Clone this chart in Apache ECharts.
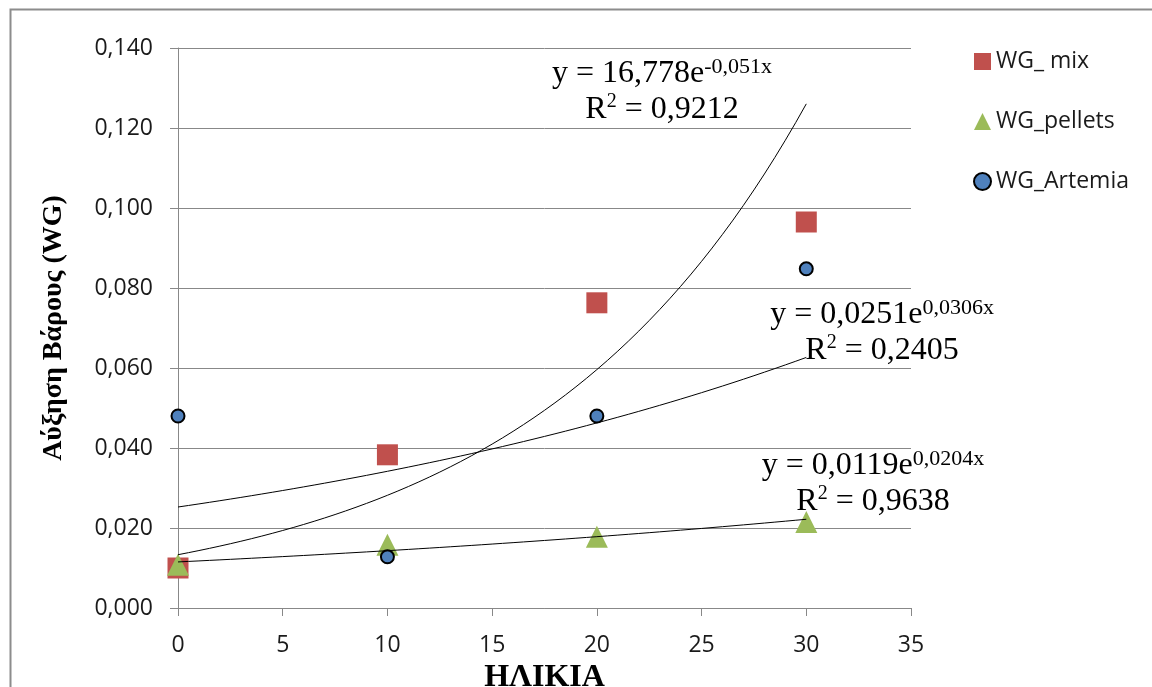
<!DOCTYPE html>
<html>
<head>
<meta charset="utf-8">
<script src="https://cdn.jsdelivr.net/npm/echarts@6/dist/echarts.min.js"></script>
<style>
html,body{margin:0;padding:0;background:#fff;}
#chart{width:1152px;height:687px;}
</style>
</head>
<body>
<div id="chart"></div>
<script>
// ---- data ----
const ages = [0, 10, 20, 30];
const wgMix = [0.0100, 0.0383, 0.0763, 0.0965];
const wgPellets = [0.0108, 0.0158, 0.0178, 0.0215];
const wgArtemia = [0.0480, 0.0128, 0.0480, 0.0848];
const seriesNames = ['WG_ mix', 'WG_pellets', 'WG_Artemia'];
const xTicks = { min: 0, max: 35, interval: 5 };
const yTicks = { min: 0, max: 0.14, interval: 0.02 };
const equations = [
  { eq: '16,778e', exp: '-0,051x', r2: '0,9212' },
  { eq: '0,0251e', exp: '0,0306x', r2: '0,2405' },
  { eq: '0,0119e', exp: '0,0204x', r2: '0,9638' }
];

// Exponential least-squares fit (what the spreadsheet trendline does)
function expFit(xs, ys) {
  const n = xs.length;
  const ly = ys.map(Math.log);
  const mx = xs.reduce((a, b) => a + b, 0) / n;
  const my = ly.reduce((a, b) => a + b, 0) / n;
  let sxy = 0, sxx = 0;
  for (let i = 0; i < n; i++) { sxy += (xs[i] - mx) * (ly[i] - my); sxx += (xs[i] - mx) * (xs[i] - mx); }
  const b = sxy / sxx;
  const a = Math.exp(my - b * mx);
  return { a, b };
}
function trendPoints(xs, ys) {
  const f = expFit(xs, ys);
  const x0 = Math.min(...xs), x1 = Math.max(...xs);
  const pts = [];
  const steps = 60;
  for (let i = 0; i <= steps; i++) {
    const x = x0 + (x1 - x0) * i / steps;
    pts.push([x, f.a * Math.exp(f.b * x)]);
  }
  return pts;
}
const pairs = ys => ages.map((x, i) => [x, ys[i]]);

const chart = echarts.init(document.getElementById('chart'));
const gridColor = '#888888';
const serif = '"Liberation Serif", "DejaVu Serif", serif';
const sans = '"Open Sans", "Noto Sans", sans-serif';

function eqText(e) {
  return '{m|y = ' + e.eq + '}{s|' + e.exp + '}\n{m|R}{s2|2}{m| = ' + e.r2 + '}';
}
const eqRich = {
  m: { fontFamily: serif, fontSize: 32, lineHeight: 36, fill: '#000', color: '#000' },
  s: { fontFamily: serif, fontSize: 22, lineHeight: 36, verticalAlign: 'top', fill: '#000', color: '#000' },
  s2: { fontFamily: serif, fontSize: 20, lineHeight: 36, verticalAlign: 'top', fill: '#000', color: '#000' }
};
const eqPos = [[662, 92], [882, 333], [873, 484]];

chart.setOption({
  animation: false,
  backgroundColor: '#fff',
  grid: { left: 178, right: 241, top: 48, bottom: 79, containLabel: false, outerBoundsMode: 'none' },
  legend: {
    orient: 'vertical', left: 968, top: 45, itemWidth: 17, itemHeight: 17, itemGap: 37,
    data: seriesNames,
    textStyle: { fontFamily: sans, fontSize: 23, color: '#1a1a1a' }
  },
  xAxis: {
    type: 'value', min: xTicks.min, max: xTicks.max, interval: xTicks.interval,
    name: 'ΗΛΙΚΙΑ', nameLocation: 'middle', nameGap: 46,
    nameTextStyle: { fontFamily: serif, fontWeight: 'bold', fontSize: 32, color: '#000' },
    axisLine: { show: true, onZero: false, lineStyle: { color: gridColor, width: 1 } },
    axisTick: { show: true, length: 8, lineStyle: { color: gridColor } },
    axisLabel: { fontFamily: sans, fontSize: 23, color: '#1a1a1a', margin: 26 },
    splitLine: { show: false }
  },
  yAxis: {
    type: 'value', min: yTicks.min, max: yTicks.max, interval: yTicks.interval,
    name: 'Αύξηση Βάρους (WG)', nameLocation: 'middle', nameGap: 110, nameRotate: 90,
    nameTextStyle: { fontFamily: serif, fontWeight: 'bold', fontSize: 28, color: '#000' },
    axisLine: { show: true, lineStyle: { color: gridColor, width: 1 } },
    axisTick: { show: true, length: 8, lineStyle: { color: gridColor } },
    axisLabel: { fontFamily: sans, fontSize: 23, color: '#1a1a1a', margin: 25,
      formatter: v => v.toFixed(3).replace('.', ',') },
    splitLine: { show: true, lineStyle: { color: gridColor, width: 1 } }
  },
  series: [
    { name: seriesNames[0], type: 'scatter', data: pairs(wgMix), symbol: 'rect', symbolSize: 21,
      itemStyle: { color: '#C0504D', opacity: 1 }, z: 3 },
    { name: seriesNames[1], type: 'scatter', data: pairs(wgPellets), symbol: 'triangle', symbolSize: 22,
      itemStyle: { color: '#9BBB59', opacity: 1 }, z: 4 },
    { name: seriesNames[2], type: 'scatter', data: pairs(wgArtemia), symbol: 'circle', symbolSize: 13,
      itemStyle: { color: '#4F81BD', borderColor: '#000', borderWidth: 2, opacity: 1 }, z: 5 },
    { name: 'trend_mix', type: 'line', data: trendPoints(ages, wgMix), showSymbol: false, symbol: 'none',
      lineStyle: { color: '#000', width: 1 }, z: 6, silent: true },
    { name: 'trend_pellets', type: 'line', data: trendPoints(ages, wgPellets), showSymbol: false, symbol: 'none',
      lineStyle: { color: '#000', width: 1 }, z: 6, silent: true },
    { name: 'trend_artemia', type: 'line', data: trendPoints(ages, wgArtemia), showSymbol: false, symbol: 'none',
      lineStyle: { color: '#000', width: 1 }, z: 6, silent: true }
  ],
  graphic: [
    { type: 'rect', left: 8, top: 7, z: 0, silent: true,
      shape: { x: 0, y: 0, width: 1300, height: 800 },
      style: { fill: 'none', stroke: '#8c8c8c', lineWidth: 2 } },
    ...equations.map((e, i) => ({
      type: 'text', z: 10, silent: true,
      x: eqPos[i][0], y: eqPos[i][1],
      style: { text: eqText(e), rich: eqRich, align: 'center', verticalAlign: 'middle',
        fontFamily: serif, fontSize: 32, fill: '#000' }
    }))
  ]
});
</script>
</body>
</html>
